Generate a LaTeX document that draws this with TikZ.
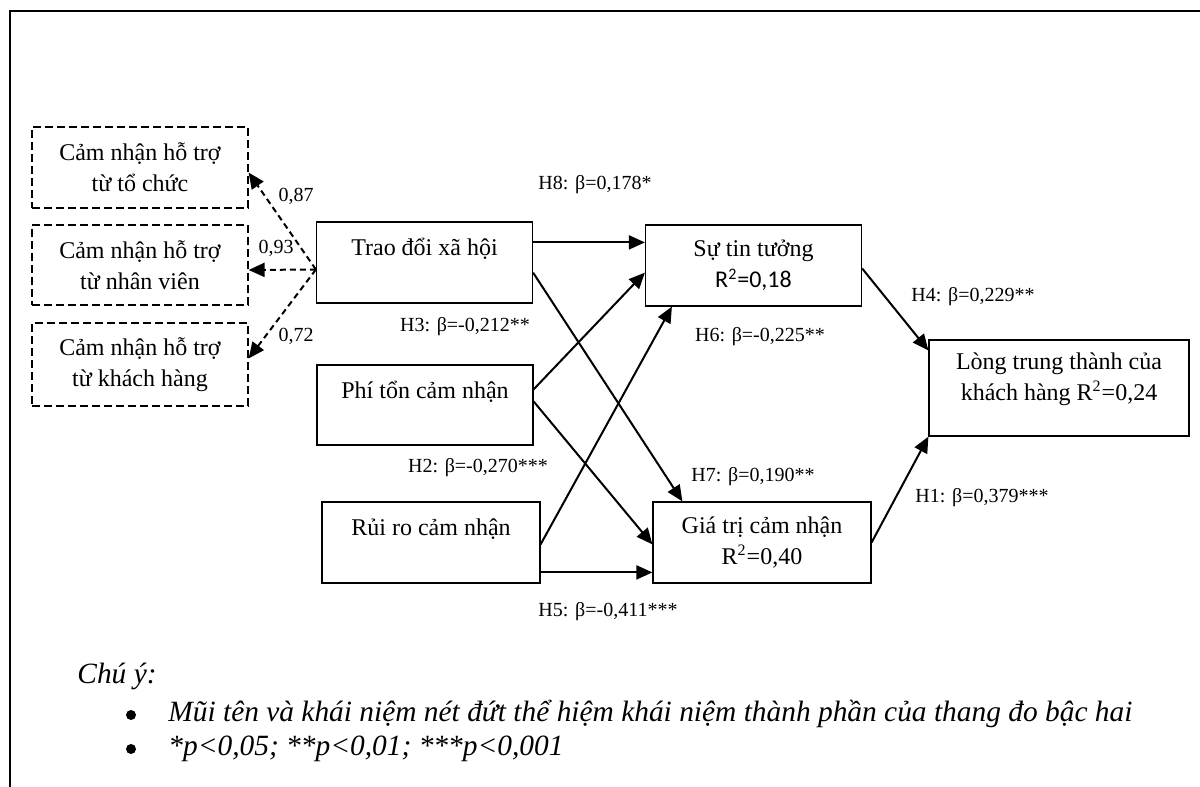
\documentclass[tikz,border=0pt]{standalone}
\usepackage{fontspec}
\setmainfont{Liberation Serif}
\newfontfamily\calibrifont{Carlito}
\usetikzlibrary{arrows.meta,positioning,calc}
\definecolor{semdiagdark}{RGB}{0,0,0}
\tikzset{
  sem box/.style={
    draw=semdiagdark,
    line width=0.6pt,
    inner sep=0pt,
    align=center,
    font=\fontsize{12}{15.5}\selectfont,
    minimum width=108pt,
    minimum height=40.5pt,
  },
  sem dashed box/.style={
    sem box,
    dash pattern=on 4pt off 2pt,
  },
  sem arrow/.style={
    -{Triangle[length=8pt,width=7pt]},
    line width=1pt,
    draw=semdiagdark,
  },
  sem dashed arrow/.style={
    sem arrow,
    dash pattern=on 3pt off 2pt,
  },
  sem label/.style={
    font=\fontsize{10}{12}\selectfont,
    inner sep=0pt,
  },
  sem note/.style={
    font=\fontsize{14.7}{17}\selectfont\itshape,
    inner sep=0pt,
    anchor=base west,
  },
  sem bullet/.style={
    circle,
    fill=semdiagdark,
    inner sep=0pt,
    minimum size=5pt,
  },
}

\begin{document}
\begin{tikzpicture}[x=0.5pt,y=-0.5pt]
  \useasboundingbox (0,0) rectangle (1200,787);
  \draw[line width=1pt, draw=semdiagdark] (10,787) -- (10,11) -- (1200,11);

  % second-order components
  \node[sem dashed box] (orgsup) at (140,167.5)
    {Cảm nhận hỗ trợ\\từ tổ chức};
  \node[sem dashed box, minimum height=40pt] (empsup) at (140,265)
    {Cảm nhận hỗ trợ\\từ nhân viên};
  \node[sem dashed box, minimum height=41.5pt] (cussup) at (140,364.5)
    {Cảm nhận hỗ trợ\\từ khách hàng};

  % antecedents
  \node[sem box] (trao) at (424.5,262.5) {Trao đổi xã hội\\~};
  \node[sem box, minimum height=40pt] (phiton) at (425,405) {Phí tổn cảm nhận\\~};
  \node[sem box, minimum width=109pt] (ruiro) at (431,542.5) {Rủi ro cảm nhận\\~};

  % mediators and outcome
  \node[sem box] (tintuong) at (753.5,265.5)
    {Sự tin tưởng\\{\calibrifont R\textsuperscript{2}=0,18}};
  \node[sem box, minimum width=109pt] (giatri) at (762,542.5)
    {Giá trị cảm nhận\\R\textsuperscript{2}=0,40};
  \node[sem box, minimum width=130pt, minimum height=48pt] (trungthanh) at (1059,388)
    {Lòng trung thành của\\khách hàng R\textsuperscript{2}=0,24\\[-4pt]~};

  \coordinate (hub) at ($(trao.west)+(0,7)$);
  \draw[sem dashed arrow] (hub) -- ($(orgsup.east)+(0,5)$);
  \draw[sem dashed arrow] (hub) -- ($(empsup.east)+(0,5)$);
  \draw[sem dashed arrow] (hub) -- ($(cussup.east)+(0,-6)$);

  \draw[sem arrow] ($(trao.north east)+(0,21)$) -- ($(tintuong.north west)+(0,18)$);
  \draw[sem arrow] ($(trao.south east)+(0,-31)$) -- ($(giatri.north west)+(30,0)$);
  \draw[sem arrow] ($(phiton.north east)+(0,25)$) -- ($(tintuong.south west)+(0,-34)$);
  \draw[sem arrow] ($(phiton.north east)+(0,37)$) -- ($(giatri.north west)+(0,43)$);
  \draw[sem arrow] ($(ruiro.north east)+(0,43)$) -- ($(tintuong.south west)+(27,0)$);
  \draw[sem arrow] ($(ruiro.north east)+(0,71)$) -- ($(giatri.north west)+(0,71)$);
  \draw[sem arrow] ($(tintuong.north east)+(0,44)$) -- ($(trungthanh.north west)+(0,11)$);
  \draw[sem arrow] (giatri.east) -- (trungthanh.south west);

  % loadings
  \node[sem label] (l87) at (296,196) {0,87};
  \node[sem label] (l93) at (276,248) {0,93};
  \node[sem label] (l72) at (296,336) {0,72};

  % path coefficients
  \node[sem label] (h8) at (595,185) {H8: β=0,178*};
  \node[sem label] (h3) at (465,327) {H3: β=-0,212**};
  \node[sem label] (h6) at (760,337) {H6: β=-0,225**};
  \node[sem label] (h4) at (973,297) {H4: β=0,229**};
  \node[sem label] (h2) at (478,468) {H2: β=-0,270***};
  \node[sem label] (h7) at (753,477) {H7: β=0,190**};
  \node[sem label] (h1) at (982,498) {H1: β=0,379***};
  \node[sem label] (h5) at (608,612) {H5: β=-0,411***};

  % note
  \node[sem note] (note) at (77,683) {Chú ý:};
  \node[sem bullet] (bul1) at (131,715) {};
  \node[sem note] (item1) at (168,721)
    {Mũi tên và khái niệm nét đứt thể hiệm khái niệm thành phần của thang đo bậc hai};
  \node[sem bullet] (bul2) at (131,749) {};
  \node[sem note] (item2) at (168,755) {*p<0,05; **p<0,01; ***p<0,001};
\end{tikzpicture}
\end{document}
